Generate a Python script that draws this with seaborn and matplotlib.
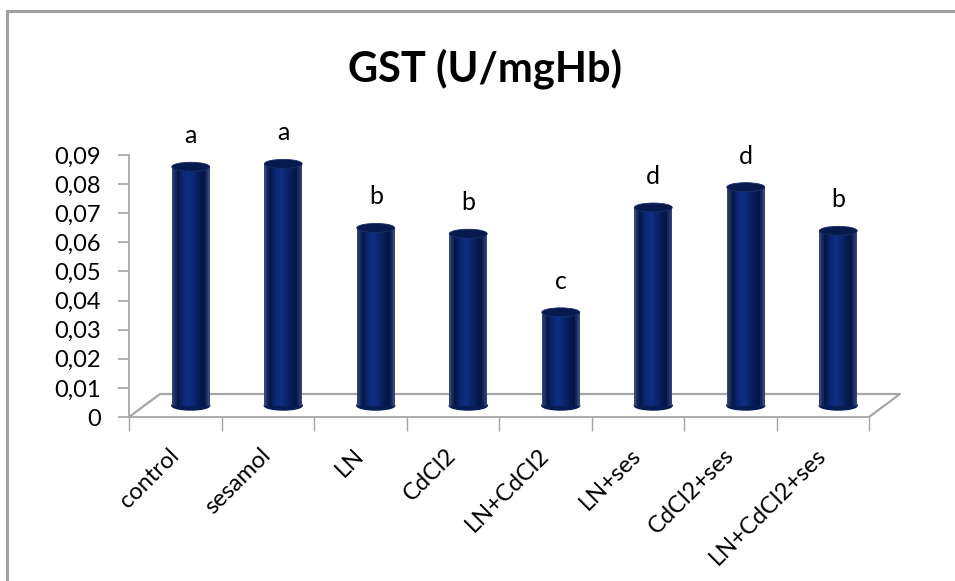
import matplotlib
matplotlib.use("Agg")
import matplotlib.pyplot as plt
import matplotlib.transforms as mtransforms
from matplotlib.colors import LinearSegmentedColormap
from matplotlib.patches import Ellipse, Rectangle
from matplotlib.lines import Line2D
import numpy as np
import pandas as pd
import seaborn as sns

groups = ["control", "sesamol", "LN", "CdCl2", "LN+CdCl2",
          "LN+ses", "CdCl2+ses", "LN+CdCl2+ses"]
gst = [0.082, 0.083, 0.061, 0.059, 0.032, 0.068, 0.075, 0.060]
letters = ["a", "a", "b", "b", "c", "d", "d", "b"]
ytick_vals = [0, 0.01, 0.02, 0.03, 0.04, 0.05, 0.06, 0.07, 0.08, 0.09]
ytick_labels = ["0", "0,01", "0,02", "0,03", "0,04", "0,05",
                "0,06", "0,07", "0,08", "0,09"]

sns.set_theme(style="white")
plt.rcParams["font.family"] = ["Lato", "DejaVu Sans"]
plt.rcParams["text.color"] = "black"
plt.rcParams["xtick.labelcolor"] = "black"
plt.rcParams["ytick.labelcolor"] = "black"

bar_col = "#0b2670"
top_col = "#061a4e"
axis_col = "#a6a6a6"
shade = LinearSegmentedColormap.from_list(
    "cyl", ["#3a4f80", "#041545", "#0b2670", "#0f2e84", "#0b2770",
            "#071c55", "#041545", "#3a4f80"])

fig = plt.figure(figsize=(9.55, 5.81), dpi=100)
ax = fig.add_axes([129 / 955, 1 - 417 / 581, 740 / 955, 262 / 581])

df = pd.DataFrame({"group": groups, "gst": gst})
sns.barplot(data=df, x="group", y="gst", color=bar_col, width=0.41,
            saturation=1, ax=ax, zorder=2)

# fake 3d: bars sit half way back on the floor
off = mtransforms.ScaledTranslation(15.5 / 100, 11.5 / 100, fig.dpi_scale_trans)
eh = 0.0031
nstrip = 24
for p in list(ax.patches):
    p.set_transform(ax.transData + off)
    p.set_edgecolor("none")
    x0, w, h = p.get_x(), p.get_width(), p.get_height()
    cx = x0 + w / 2
    ax.add_patch(Ellipse((cx, 0), w, eh, color="#071c55",
                         transform=ax.transData + off, zorder=2))
    for k in range(nstrip):
        ax.add_patch(Rectangle((x0 + k * w / nstrip, 0), w / nstrip * 1.05, h,
                               color=shade((k + 0.5) / nstrip), lw=0,
                               transform=ax.transData + off, zorder=2.5))
    ax.add_patch(Ellipse((cx, h), w, eh, facecolor=top_col,
                         edgecolor="#1b3068", lw=0.6,
                         transform=ax.transData + off, zorder=3))

lab_off = mtransforms.ScaledTranslation(15.5 / 100, (11.5 + 31) / 100,
                                        fig.dpi_scale_trans)
for i, (v, s) in enumerate(zip(gst, letters)):
    ax.text(i, v, s, transform=ax.transData + lab_off, ha="center",
            va="center", fontsize=18, color="black")

ax.set_xlim(-0.5, 7.5)
ax.set_ylim(0, 0.09)
ax.set_yticks(ytick_vals)
ax.set_yticklabels(ytick_labels, fontsize=17)
ax.set_xticks(range(len(groups)))
ax.set_xticklabels(groups, fontsize=17, rotation=45, ha="right",
                   va="center", rotation_mode="anchor")
ax.set_xticks(np.arange(-0.5, 8, 1), minor=True)
ax.tick_params(axis="y", left=True, length=8, color=axis_col, pad=12)
ax.tick_params(axis="x", which="major", bottom=False, pad=19)
ax.tick_params(axis="x", which="minor", bottom=True, length=10, color=axis_col)
ax.set_xlabel("")
ax.set_ylabel("")
for side in ["top", "right"]:
    ax.spines[side].set_visible(False)
for side in ["left", "bottom"]:
    ax.spines[side].set_color(axis_col)
    ax.spines[side].set_linewidth(1.3)

# floor outline
dxa, dya = 31 / 740, 23 / 262
ax.add_line(Line2D([0, dxa, 1 + dxa, 1], [0, dya, dya, 0], color=axis_col,
                   lw=1.6, transform=ax.transAxes, clip_on=False, zorder=0.5))

# chart border
fig.add_artist(Line2D([7 / 955, 1], [1 - 11 / 581, 1 - 11 / 581],
                      color="#a0a0a0", lw=2.2, transform=fig.transFigure))
fig.add_artist(Line2D([7 / 955, 7 / 955], [0, 1 - 11 / 581],
                      color="#a0a0a0", lw=2.2, transform=fig.transFigure))

fig.text(485 / 955, 1 - 69 / 581, "GST (U/mgHb)", fontsize=30,
         fontweight="bold", ha="center", va="center")

fig.savefig("out.png", dpi=100)
